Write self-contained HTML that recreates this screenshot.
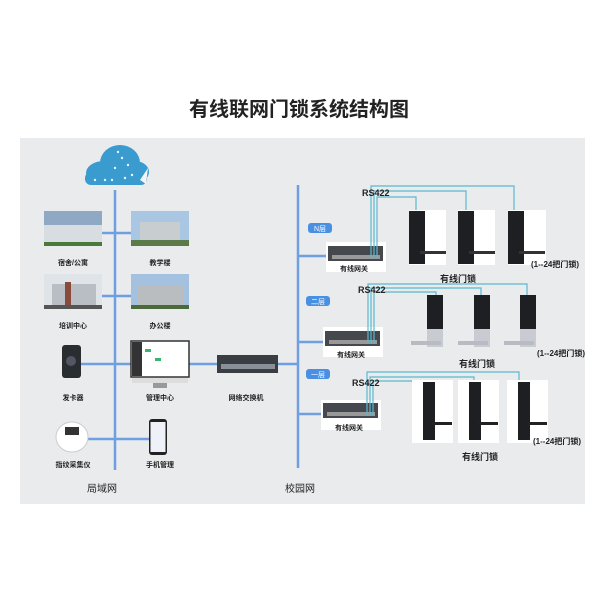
<!DOCTYPE html>
<html><head><meta charset="utf-8"><style>
html,body{margin:0;padding:0;background:#fff;}
svg{display:block;font-family:"Liberation Sans","Noto Sans CJK SC",sans-serif;}
</style></head><body>
<svg width="600" height="600" viewBox="0 0 600 600" xmlns="http://www.w3.org/2000/svg">
<rect width="600" height="600" fill="#fff"/>
<text x="299" y="116" font-size="20" text-anchor="middle" fill="#222" font-weight="bold" font-family="Noto Sans CJK SC, sans-serif">有线联网门锁系统结构图</text>
<rect x="20" y="138" width="565" height="366" fill="#eaebed"/>

<g stroke="#6f9fe0" stroke-width="2.5" fill="none">
<line x1="115" y1="190" x2="115" y2="470"/>
<line x1="101" y1="233" x2="131" y2="233"/>
<line x1="101" y1="296" x2="131" y2="296"/>
<line x1="80" y1="364" x2="131" y2="364"/>
<line x1="189" y1="364" x2="298" y2="364"/>
<line x1="88" y1="439" x2="150" y2="439"/>
<line x1="298" y1="185" x2="298" y2="468"/>
<line x1="298" y1="256" x2="328" y2="256"/>
<line x1="298" y1="342" x2="325" y2="342"/>
<line x1="298" y1="414" x2="323" y2="414"/>
</g>

<g>
<ellipse cx="104" cy="173" rx="18" ry="12" fill="#3a9bcf"/>
<ellipse cx="120" cy="163" rx="20" ry="18" fill="#3a9bcf"/>
<ellipse cx="135" cy="172" rx="14" ry="11" fill="#3a9bcf"/>
<rect x="85" y="172" width="62" height="13" rx="6" fill="#3a9bcf"/>
<path d="M140 180 L148 168 L146 184 Z" fill="#f4f4f4"/>
<g fill="#e8f6ff"><circle cx="95" cy="180" r="1.2"/><circle cx="105" cy="180" r="1.2"/><circle cx="112" cy="180" r="1.2"/><circle cx="122" cy="158" r="1.2"/><circle cx="128" cy="165" r="1.2"/><circle cx="132" cy="175" r="1.2"/><circle cx="115" cy="168" r="1.2"/><circle cx="118" cy="152" r="1.2"/><circle cx="125" cy="178" r="1.2"/></g>
</g>

<rect x="44" y="211" width="58" height="35" fill="#8fa9c4"/><rect x="44" y="225" width="58" height="18" fill="#d8dde2"/><rect x="44" y="242" width="58" height="4" fill="#4a7a3a"/>
<rect x="131" y="211" width="58" height="35" fill="#a9c6e2"/><rect x="140" y="222" width="40" height="20" fill="#c8cdd0"/><rect x="131" y="240" width="58" height="6" fill="#5a7a4a"/>
<rect x="44" y="274" width="58" height="35" fill="#dfe4e8"/><rect x="52" y="284" width="44" height="22" fill="#b8bec4"/><rect x="65" y="282" width="6" height="24" fill="#8a4a3a"/><rect x="44" y="305" width="58" height="4" fill="#555"/>
<rect x="131" y="274" width="58" height="35" fill="#a4c2e0"/><rect x="137" y="286" width="46" height="20" fill="#b9bdc0"/><rect x="131" y="305" width="58" height="4" fill="#4a6a3a"/>
<g font-size="7" fill="#222" text-anchor="middle" font-weight="bold">
<text x="73" y="265">宿舍/公寓</text><text x="160" y="265">教学楼</text>
<text x="73" y="328">培训中心</text><text x="160" y="328">办公楼</text>
<text x="73" y="400">发卡器</text><text x="160" y="400">管理中心</text><text x="246" y="400">网络交换机</text>
<text x="73" y="467">指纹采集仪</text><text x="160" y="467">手机管理</text>
</g>
<rect x="62" y="345" width="19" height="33" rx="3" fill="#2a2d30"/><circle cx="71" cy="361" r="5" fill="#556"/>
<rect x="131" y="341" width="58" height="36" fill="#fff" stroke="#333" stroke-width="1.5"/><rect x="132" y="342" width="10" height="34" fill="#333"/><rect x="132" y="378" width="56" height="5" fill="#ddd"/><rect x="153" y="383" width="14" height="5" fill="#999"/>
<rect x="145" y="349" width="6" height="3" fill="#3cb371"/><rect x="155" y="358" width="6" height="3" fill="#3cb371"/>
<rect x="217" y="355" width="61" height="18" fill="#3a3d42"/><rect x="221" y="364" width="54" height="5" fill="#8a9099"/>
<ellipse cx="72" cy="437" rx="16" ry="15" fill="#fff" stroke="#ccc"/><rect x="65" y="427" width="14" height="8" fill="#333"/>
<rect x="149" y="419" width="18" height="36" rx="3" fill="#222"/><rect x="150.5" y="422" width="15" height="30" fill="#eef2f8"/>

<g font-size="10" fill="#222" text-anchor="middle"><text x="102" y="492">局域网</text><text x="300" y="492">校园网</text></g>

<g font-size="7" fill="#fff" text-anchor="middle">
<rect x="308" y="223" width="24" height="10" rx="3" fill="#4a90e2"/><text x="320" y="231">N层</text>
<rect x="306" y="296" width="24" height="10" rx="3" fill="#4a90e2"/><text x="318" y="304">二层</text>
<rect x="306" y="369" width="24" height="10" rx="3" fill="#4a90e2"/><text x="318" y="377">一层</text>
</g>

<rect x="326" y="242" width="60" height="30" fill="#fff"/><rect x="328" y="246" width="55" height="15" fill="#45494e"/><rect x="332" y="255" width="48" height="4" fill="#999"/>
<rect x="323" y="327" width="60" height="30" fill="#fff"/><rect x="325" y="331" width="55" height="15" fill="#45494e"/><rect x="329" y="340" width="48" height="4" fill="#999"/>
<rect x="321" y="400" width="60" height="30" fill="#fff"/><rect x="323" y="403" width="55" height="15" fill="#45494e"/><rect x="327" y="412" width="48" height="4" fill="#999"/>
<g font-size="7" fill="#222" text-anchor="middle" font-weight="bold"><text x="354" y="271">有线网关</text><text x="351" y="357">有线网关</text><text x="349" y="430">有线网关</text></g>

<g stroke="#5ab8cf" stroke-width="1.2" fill="none">
<path d="M371 258V186H514V212"/><path d="M374 258V191H466V212"/><path d="M377 258V197H416V212"/>
<path d="M368 343V284H527V296"/><path d="M371 343V288H481V296"/><path d="M374 343V292H436V296"/>
<path d="M367 415V372H519V382"/><path d="M370 415V377H474V382"/><path d="M373 415V381H429V382"/>
</g>
<g font-size="9" fill="#222" font-weight="bold"><text x="362" y="196">RS422</text><text x="358" y="293">RS422</text><text x="352" y="386">RS422</text></g>

<g>
<rect x="409" y="210" width="37" height="55" fill="#fff"/><rect x="409" y="211" width="16" height="53" fill="#1e1f22"/><rect x="420" y="251" width="26" height="3" fill="#333"/>
<rect x="458" y="210" width="37" height="55" fill="#fff"/><rect x="458" y="211" width="16" height="53" fill="#1e1f22"/><rect x="469" y="251" width="26" height="3" fill="#333"/>
<rect x="508" y="210" width="38" height="55" fill="#fff"/><rect x="508" y="211" width="16" height="53" fill="#1e1f22"/><rect x="519" y="251" width="26" height="3" fill="#333"/>
</g>
<g>
<rect x="427" y="295" width="16" height="52" fill="#c8ccd2"/><rect x="427" y="295" width="16" height="34" fill="#1e1f22"/><rect x="411" y="341" width="30" height="4" fill="#b8bcc2"/>
<rect x="474" y="295" width="16" height="52" fill="#c8ccd2"/><rect x="474" y="295" width="16" height="34" fill="#1e1f22"/><rect x="458" y="341" width="30" height="4" fill="#b8bcc2"/>
<rect x="520" y="295" width="16" height="52" fill="#c8ccd2"/><rect x="520" y="295" width="16" height="34" fill="#1e1f22"/><rect x="504" y="341" width="30" height="4" fill="#b8bcc2"/>
</g>
<g>
<rect x="412" y="380" width="41" height="63" fill="#fff"/><rect x="423" y="382" width="12" height="58" fill="#1e1f22"/><rect x="432" y="422" width="20" height="3" fill="#222"/>
<rect x="458" y="380" width="41" height="63" fill="#fff"/><rect x="469" y="382" width="12" height="58" fill="#1e1f22"/><rect x="478" y="422" width="20" height="3" fill="#222"/>
<rect x="507" y="380" width="41" height="63" fill="#fff"/><rect x="518" y="382" width="12" height="58" fill="#1e1f22"/><rect x="527" y="422" width="20" height="3" fill="#222"/>
</g>
<g font-size="9" fill="#222" font-weight="bold">
<text x="458" y="282" text-anchor="middle">有线门锁</text>
<text x="477" y="367" text-anchor="middle">有线门锁</text>
<text x="480" y="460" text-anchor="middle">有线门锁</text>
<text x="531" y="267" font-size="8">(1--24把门锁)</text>
<text x="537" y="356" font-size="8">(1--24把门锁)</text>
<text x="533" y="444" font-size="8">(1--24把门锁)</text>
</g>
</svg>
</body></html>
